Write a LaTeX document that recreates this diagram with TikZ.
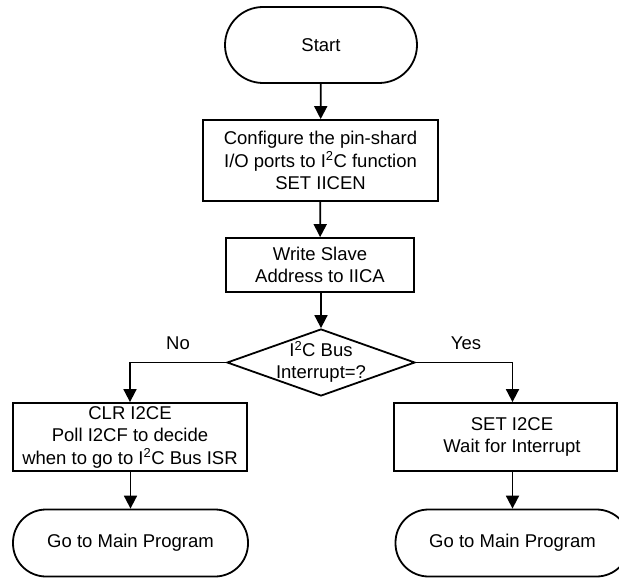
\documentclass[tikz,border=0pt]{standalone}
\usepackage{fontspec}
\setmainfont{Liberation Sans}
\usetikzlibrary{shapes.geometric,arrows.meta}
\begin{document}
\begin{tikzpicture}[x=1pt,y=-1pt,
  every node/.style={font=\fontsize{18.5}{22.5}\selectfont, inner sep=0pt, align=center},
  proc/.style={draw, line width=1.8pt, rectangle},
  term/.style={draw, line width=1.8pt, rectangle, rounded corners=#1},
  flow/.style={line width=1.8pt, -{Triangle[width=13pt,length=13pt]}},
  dec/.style={draw, line width=1.8pt, diamond, minimum width=188pt, minimum height=67pt}
]
\useasboundingbox (0,0) rectangle (619,578);
\clip (0,0) rectangle (619,578);
\node[term=38pt, minimum width=192pt, minimum height=76pt] (start) at (321,45) {Start};
\node[proc, minimum width=235pt, minimum height=81pt] (config) at (320.5,160.5)
  {Configure the pin-shard\\I/O ports to I\textsuperscript{2}C function\\SET IICEN};
\node[proc, minimum width=188pt, minimum height=54pt] (write) at (320,265)
  {Write Slave\\Address to IICA};
\node[dec] (decide) at (321,362.5) {};
\node (dectext) at (321,362) {I\textsuperscript{2}C Bus\\Interrupt=?};
\node[proc, minimum width=234pt, minimum height=68pt] (lbox) at (130,437)
  {CLR I2CE\\Poll I2CF to decide\\when to go to I\textsuperscript{2}C Bus ISR};
\node[proc, minimum width=223pt, minimum height=68pt] (rbox) at (505.5,437) {};
\node (rtext) at (512,437) {SET I2CE\\Wait for Interrupt};
\node[term=33pt, minimum width=235pt, minimum height=67pt] (lterm) at (130.5,543) {Go to Main Program};
\node[term=33pt, minimum width=234pt, minimum height=67pt] (rterm) at (512.5,543) {Go to Main Program};
\node (no) at (178,343) {No};
\node (yes) at (466,343) {Yes};
\draw[flow] (start) -- (config);
\draw[flow] (config) -- (write);
\draw[flow] (write.south -| decide.north) -- (decide.north);
\draw[flow] (decide.west) -| (lbox.north);
\draw[flow] (decide.east) -| (rterm.north |- rbox.north);
\draw[flow] (lbox.south -| lterm.north) -- (lterm.north);
\draw[flow] (rterm.north |- rbox.south) -- (rterm.north);
\end{tikzpicture}
\end{document}
